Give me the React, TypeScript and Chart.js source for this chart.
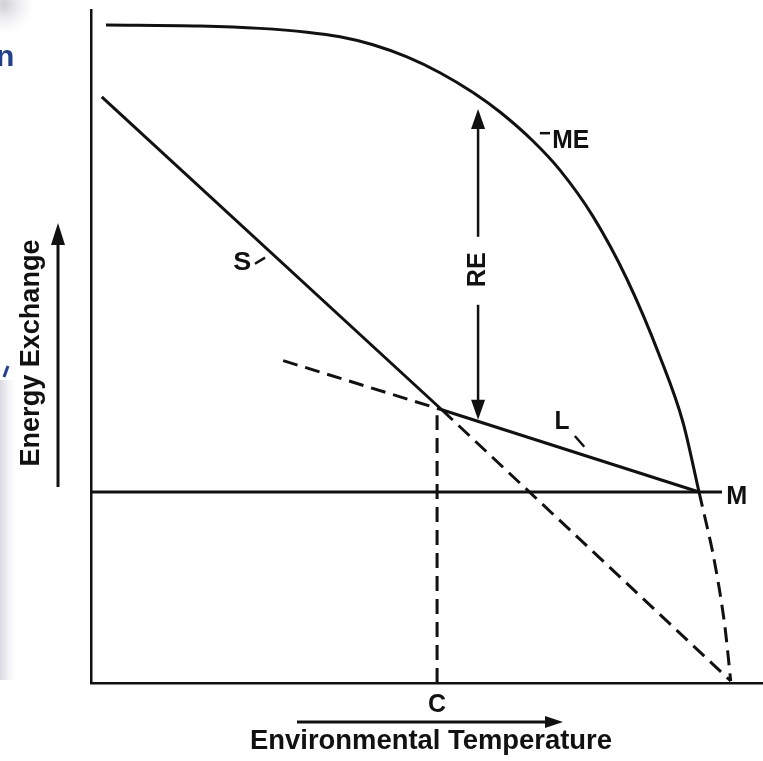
import React, { useEffect, useRef } from 'react';
import { Chart, registerables } from 'chart.js';

Chart.register(...registerables);

// ---- Data (abstract units: x 0..100 temperature, y 0..100 energy exchange) ----
const meX = [2.23, 16.22, 25.15, 32.14, 37.05, 41.96, 47.02, 51.93, 56.85, 60.86, 65.77, 69.79, 74.7, 79.76, 84.67, 88.1, 90.48];
const meY = [97.77, 97.62, 97.27, 96.7, 96.02, 94.84, 93.03, 90.68, 87.74, 84.84, 80.53, 76.2, 69.33, 59.99, 48.46, 38.71, 28.38];
const meTailX = [90.48, 92.6, 94.2, 95.2];
const meTailY = [28.38, 19.0, 9.4, 0.3];
const sX = [1.6, 52.2];
const sY = [87.1, 40.6];
const sDashX = [52.2, 95.2];
const sDashY = [40.6, 0.3];
const lX = [52.2, 90.48];
const lY = [40.6, 28.38];
const lDashX = [28.6, 52.2];
const lDashY = [47.9, 40.6];
const mX = [0, 93.9];
const mY = [28.38, 28.38];
const cX = [51.5, 51.5];
const cY = [0, 39.8];
const reX = 57.6;
const reTop = 85.3;
const reBottom = 39.1;

const xTitle = 'Environmental Temperature';
const yTitle = 'Energy Exchange';
const curveLabels = ['ME', 'S', 'L', 'M', 'RE'];
const cLabel = 'C';

const INK = '#111111';
const FONT = '"Liberation Sans", Arial, sans-serif';

const pts = (xs: number[], ys: number[]) => xs.map((x, i) => ({ x, y: ys[i] }));

function fitted(ctx: CanvasRenderingContext2D, text: string, cx: number, cy: number, w: number, size: number, rot = 0) {
  ctx.save();
  ctx.translate(cx, cy);
  if (rot) ctx.rotate(rot);
  ctx.font = `bold ${size}px ${FONT}`;
  const m = ctx.measureText(text).width;
  ctx.scale(w / m, 1);
  ctx.textAlign = 'center';
  ctx.textBaseline = 'middle';
  ctx.fillStyle = INK;
  ctx.fillText(text, 0, 0);
  ctx.restore();
}

function seg(ctx: CanvasRenderingContext2D, x1: number, y1: number, x2: number, y2: number, lw: number) {
  ctx.save();
  ctx.strokeStyle = INK;
  ctx.lineWidth = lw;
  ctx.beginPath();
  ctx.moveTo(x1, y1);
  ctx.lineTo(x2, y2);
  ctx.stroke();
  ctx.restore();
}

function head(ctx: CanvasRenderingContext2D, tx: number, ty: number, dir: 'up' | 'down' | 'right', len: number, half: number) {
  ctx.save();
  ctx.fillStyle = INK;
  ctx.beginPath();
  ctx.moveTo(tx, ty);
  if (dir === 'up') { ctx.lineTo(tx - half, ty + len); ctx.lineTo(tx + half, ty + len); }
  else if (dir === 'down') { ctx.lineTo(tx - half, ty - len); ctx.lineTo(tx + half, ty - len); }
  else { ctx.lineTo(tx - len, ty - half); ctx.lineTo(tx - len, ty + half); }
  ctx.closePath();
  ctx.fill();
  ctx.restore();
}

const annotationPlugin = {
  id: 'annotations',
  afterDatasetsDraw(chart: any) {
    const ctx: CanvasRenderingContext2D = chart.ctx;
    const xs = chart.scales.x, ys = chart.scales.y;
    const X = (v: number) => xs.getPixelForValue(v);
    const Y = (v: number) => ys.getPixelForValue(v);

    // RE double arrow
    const ax = X(reX);
    seg(ctx, ax, Y(reTop) + 14, ax, Y(66.3), 2.5);
    seg(ctx, ax, Y(56.2), ax, Y(reBottom) - 14, 2.5);
    head(ctx, ax, Y(reTop), 'up', 20, 7);
    head(ctx, ax, Y(reBottom), 'down', 20, 7);
    fitted(ctx, curveLabels[4], ax, Y(61.4), 35, 25, -Math.PI / 2);

    // ME label + leader
    fitted(ctx, curveLabels[0], X(71.4), Y(80.5), 37, 25);
    seg(ctx, X(66.8), Y(81.7), X(68.3), Y(81.7), 2.5);
    // S label + leader
    fitted(ctx, curveLabels[1], X(22.5), Y(62.4), 18, 25);
    seg(ctx, X(24.4), Y(62.3), X(25.9), Y(63.2), 2.5);
    // L label + leader
    fitted(ctx, curveLabels[2], X(70.1), Y(38.8), 15, 25);
    seg(ctx, X(72.0), Y(36.7), X(73.4), Y(35.1), 2.5);
    // M label
    fitted(ctx, curveLabels[3], X(96.1), Y(27.6), 21, 25);
  },
  afterDraw(chart: any) {
    const ctx: CanvasRenderingContext2D = chart.ctx;
    const area = chart.chartArea;
    const xs = chart.scales.x;

    // C label under the axis
    fitted(ctx, cLabel, xs.getPixelForValue(cX[0]), area.bottom + 22, 18, 25);

    // x-axis arrow and title
    const ay = area.bottom + 39;
    seg(ctx, area.left + 206, ay, area.left + 458, ay, 3);
    head(ctx, area.left + 472, ay, 'right', 18, 6);
    fitted(ctx, xTitle, area.left + 340, area.bottom + 59, 362, 27);

    // y-axis arrow and title
    const bx = area.left - 33;
    seg(ctx, bx, area.top + 477, bx, area.top + 230, 3);
    head(ctx, bx, area.top + 213, 'up', 22, 7);
    fitted(ctx, yTitle, area.left - 59, area.top + 343, 227, 27, -Math.PI / 2);

    // faint background remnants at the left edge
    ctx.save();
    const g = ctx.createLinearGradient(0, 0, 16, 0);
    g.addColorStop(0, 'rgba(215,212,225,0.9)');
    g.addColorStop(1, 'rgba(235,233,240,0)');
    ctx.fillStyle = g;
    ctx.fillRect(0, 380, 16, 300);
    const g2 = ctx.createRadialGradient(4, 4, 2, 4, 4, 30);
    g2.addColorStop(0, 'rgba(200,200,205,0.8)');
    g2.addColorStop(1, 'rgba(230,230,235,0)');
    ctx.fillStyle = g2;
    ctx.fillRect(0, 0, 34, 36);
    ctx.fillStyle = '#23408f';
    ctx.font = `bold 30px ${FONT}`;
    ctx.textAlign = 'left';
    ctx.textBaseline = 'alphabetic';
    ctx.fillText('n', -4, 66);
    ctx.strokeStyle = '#23408f';
    ctx.lineWidth = 3;
    ctx.beginPath();
    ctx.moveTo(8, 366);
    ctx.lineTo(4, 377);
    ctx.stroke();
    ctx.restore();
  },
};

export default function App() {
  const ref = useRef<HTMLCanvasElement | null>(null);

  useEffect(() => {
    if (!ref.current) return;
    const solid = (data: any, extra: any = {}) => ({
      data,
      showLine: true,
      borderColor: INK,
      borderWidth: 3,
      pointRadius: 0,
      fill: false,
      ...extra,
    });
    const dash = [15, 8];
    const chart = new Chart(ref.current, {
      type: 'scatter',
      data: {
        datasets: [
          solid(pts(meX, meY), { cubicInterpolationMode: 'monotone' }),
          solid(pts(meTailX, meTailY), { borderDash: dash, tension: 0.3 }),
          solid(pts(sX, sY)),
          solid(pts(sDashX, sDashY), { borderDash: dash }),
          solid(pts(lX, lY)),
          solid(pts(lDashX, lDashY), { borderDash: dash }),
          solid(pts(mX, mY)),
          solid(pts(cX, cY), { borderDash: dash }),
        ] as any,
      },
      options: {
        animation: false,
        responsive: false,
        layout: { autoPadding: false, padding: { left: 91, top: 10, right: 0, bottom: 78 } } as any,
        plugins: { legend: { display: false }, tooltip: { enabled: false } },
        scales: {
          x: {
            type: 'linear', min: 0, max: 100,
            ticks: { display: false },
            grid: { display: false, drawTicks: false },
            border: { display: true, color: INK, width: 2.5 },
          },
          y: {
            type: 'linear', min: 0, max: 100,
            ticks: { display: false },
            grid: { display: false, drawTicks: false },
            border: { display: true, color: INK, width: 2.5 },
          },
        },
      },
      plugins: [annotationPlugin],
    });
    return () => chart.destroy();
  }, []);

  return (
    <canvas
      ref={ref}
      width={763}
      height={761}
      style={{ position: 'absolute', left: 0, top: 0, width: 763, height: 761, background: '#fff' }}
    />
  );
}
